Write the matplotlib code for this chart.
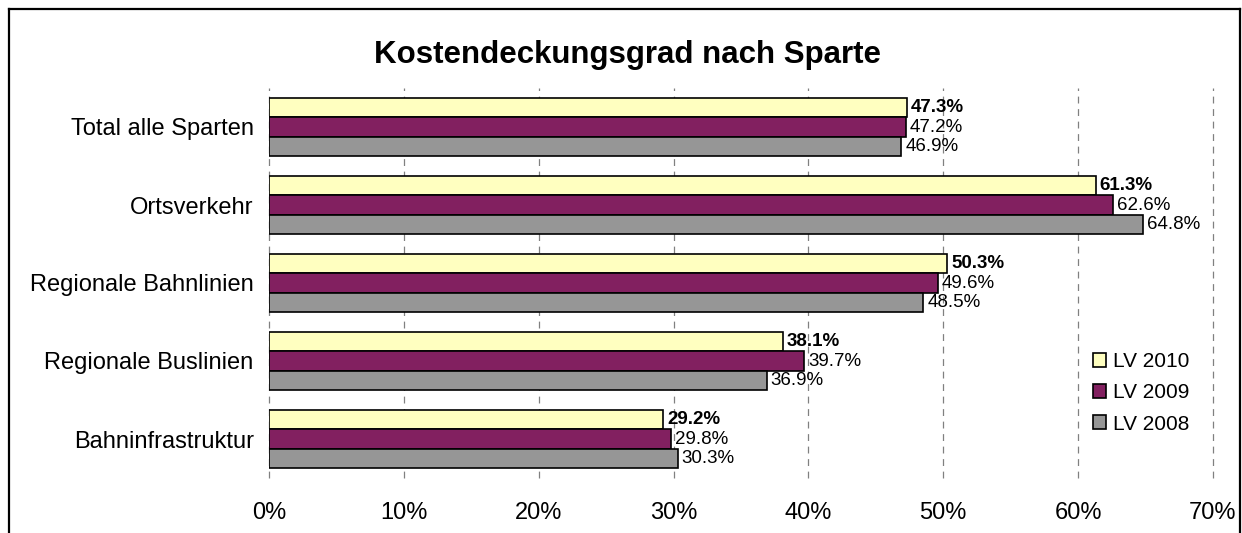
import numpy as np
import matplotlib
matplotlib.use("Agg")
import matplotlib.pyplot as plt
from matplotlib.lines import Line2D

plt.rcParams["font.family"] = ["Liberation Sans", "DejaVu Sans"]

categories = ["Total alle Sparten", "Ortsverkehr", "Regionale Bahnlinien",
              "Regionale Buslinien", "Bahninfrastruktur"]
series_names = ["LV 2010", "LV 2009", "LV 2008"]
lv2010 = [47.3, 61.3, 50.3, 38.1, 29.2]
lv2009 = [47.2, 62.6, 49.6, 39.7, 29.8]
lv2008 = [46.9, 64.8, 48.5, 36.9, 30.3]
x_ticks = [0, 10, 20, 30, 40, 50, 60, 70]

colors = ["#FFFFC0", "#822060", "#969696"]

W, H = 1242, 533
fig = plt.figure(figsize=(W / 100, H / 100), dpi=100)
ax = fig.add_axes([269 / W, 1 - 478 / H, (1213 - 269) / W, (478 - 88) / H])

y = np.arange(len(categories))
bar_h = 0.25
for i, (vals, name, c) in enumerate(zip([lv2010, lv2009, lv2008], series_names, colors)):
    pos = y + (i - 1) * bar_h
    ax.barh(pos, vals, height=bar_h, color=c, edgecolor="black", linewidth=1.2,
            label=name, zorder=3)
    for p, v in zip(pos, vals):
        ax.annotate(f"{v:.1f}%", (v, p), xytext=(3, 0), textcoords="offset points",
                    va="center", ha="left", fontsize=13.5,
                    fontweight="bold" if i == 0 else "normal", zorder=4)

ax.set_xlim(0, 70)
ax.set_ylim(len(categories) - 0.5, -0.5)
ax.set_xticks(x_ticks)
ax.set_xticklabels([f"{t}%" for t in x_ticks], fontsize=17)
ax.set_yticks(y)
ax.set_yticklabels(categories, fontsize=17)
ax.tick_params(axis="both", length=0)
ax.tick_params(axis="y", pad=11)
ax.tick_params(axis="x", pad=17)
for s in ax.spines.values():
    s.set_visible(False)
ax.xaxis.grid(True, color="#808080", linestyle=(0, (5.5, 4.5)), linewidth=0.9, zorder=1)
ax.set_axisbelow(True)
for gl in ax.get_xgridlines():
    gl.set_clip_on(False)

ax.legend(loc="center left", bbox_to_anchor=(1093 / W, 1 - 393 / H),
          bbox_transform=fig.transFigure, frameon=False, fontsize=15,
          handlelength=0.63, handleheight=0.63, handletextpad=0.34,
          labelspacing=0.58, borderpad=0, borderaxespad=0)

fig.text(628 / W, 1 - 55 / H, "Kostendeckungsgrad nach Sparte", ha="center",
         va="center", fontsize=22.5, fontweight="bold")

# outer frame (bottom edge cropped off)
fx0, fx1, fy0 = 9 / W, 1240 / W, 1 - 9 / H
for xs, ys in [([fx0, fx0], [fy0, -0.1]), ([fx0, fx1], [fy0, fy0]), ([fx1, fx1], [fy0, -0.1])]:
    fig.add_artist(Line2D(xs, ys, color="black", linewidth=1.6,
                          transform=fig.transFigure, clip_on=False))

fig.savefig("out.png", dpi=100)
